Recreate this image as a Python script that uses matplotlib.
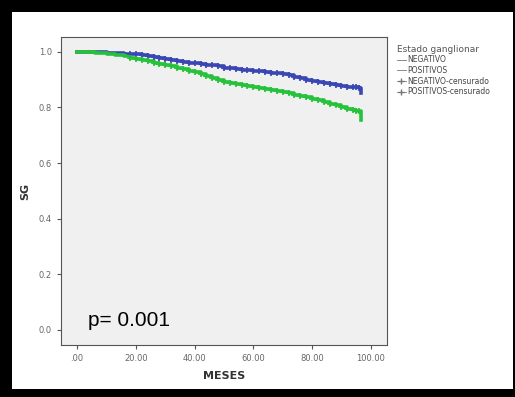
import matplotlib
matplotlib.use('Agg')
import matplotlib.pyplot as plt
from matplotlib.patches import Rectangle
from matplotlib.lines import Line2D

# tiempos (meses) y supervivencia estimada por grupo
t_neg = [0, 6, 10, 13, 16, 18, 20, 22, 24, 26, 28, 30, 32, 34, 36, 38, 40, 42, 44, 46, 48, 50, 52, 54, 56, 58,
         60, 62, 64, 66, 68, 70, 72, 74, 76, 78, 80, 82, 84, 86, 88, 90, 92, 94, 95, 96, 96.5]
s_neg = [1.0, 0.999, 0.997, 0.995, 0.993, 0.992, 0.991, 0.989, 0.985, 0.981, 0.977, 0.973, 0.969, 0.965, 0.962, 0.96,
         0.958, 0.955, 0.953, 0.951, 0.947, 0.943, 0.94, 0.938, 0.936, 0.934, 0.932, 0.93, 0.928, 0.925, 0.922, 0.92,
         0.916, 0.91, 0.905, 0.9, 0.895, 0.89, 0.887, 0.884, 0.88, 0.876, 0.874, 0.873, 0.872, 0.871, 0.85]
t_pos = [0, 6, 10, 13, 16, 18, 20, 22, 24, 26, 28, 30, 32, 34, 36, 38, 40, 42, 44, 46, 48, 50, 52, 54, 56, 58,
         60, 62, 64, 66, 68, 70, 72, 74, 76, 78, 80, 82, 84, 86, 88, 90, 92, 94, 95, 96, 96.5]
s_pos = [1.0, 0.997, 0.993, 0.988, 0.983, 0.979, 0.975, 0.971, 0.966, 0.961, 0.957, 0.952, 0.947, 0.942, 0.937, 0.932,
         0.927, 0.92, 0.913, 0.906, 0.899, 0.892, 0.888, 0.884, 0.88, 0.876, 0.872, 0.868, 0.865, 0.862, 0.859, 0.855,
         0.85, 0.846, 0.841, 0.836, 0.831, 0.825, 0.819, 0.813, 0.807, 0.801, 0.796, 0.79, 0.788, 0.786, 0.755]

xticks = [0, 20, 40, 60, 80, 100]
xlabels = ['.00', '20.00', '40.00', '60.00', '80.00', '100.00']
yticks = [0.0, 0.2, 0.4, 0.6, 0.8, 1.0]
ylabels = ['0.0', '0.2', '0.4', '0.6', '0.8', '1.0']

fig = plt.figure(figsize=(5.15, 3.97), dpi=100)
fig.patch.set_facecolor('black')
fig.patches.append(Rectangle((0.0233, 0.0202), 0.9728, 0.9496, transform=fig.transFigure,
                             facecolor='white', edgecolor='none', zorder=-10))

ax = fig.add_axes([0.1184, 0.131, 0.6331, 0.7758])
ax.set_facecolor('#f0f0f0')

ax.step(t_neg, s_neg, where='post', color='#3a46b4', lw=2.6, label='NEGATIVO')
ax.step(t_pos, s_pos, where='post', color='#26c23a', lw=2.6, label='POSITIVOS')
ax.plot(t_neg[5:-1], s_neg[5:-1], ls='none', marker='+', ms=4.5, mew=1.2, color='#3a46b4', label='NEGATIVO-censurado')
ax.plot(t_pos[5:-1], s_pos[5:-1], ls='none', marker='+', ms=4.5, mew=1.2, color='#26c23a', label='POSITIVOS-censurado')

ax.set_xlim(-5.5, 105.5)
ax.set_ylim(-0.054, 1.053)
ax.set_xticks(xticks)
ax.set_xticklabels(xlabels)
ax.set_yticks(yticks)
ax.set_yticklabels(ylabels)
ax.tick_params(direction='out', length=3, width=0.8, labelsize=6, colors='#555555', labelcolor='#666666')
for s in ax.spines.values():
    s.set_color('#555555')
    s.set_linewidth(0.8)

ax.set_xlabel('MESES', fontsize=8, fontweight='bold', color='#333333', labelpad=6)
ax.set_ylabel('SG', fontsize=8, fontweight='bold', color='#333333', labelpad=6)

ax.text(0.083, 0.062, 'p= 0.001', transform=ax.transAxes, fontsize=15, color='black',
        family='Liberation Sans')

labels = ['NEGATIVO', 'POSITIVOS', 'NEGATIVO-censurado', 'POSITIVOS-censurado']
hs = [Line2D([], [], color='#777777', lw=0.6),
      Line2D([], [], color='#777777', lw=0.6),
      Line2D([], [], color='#777777', lw=0.6, marker='+', ms=4),
      Line2D([], [], color='#777777', lw=0.6, marker='+', ms=4)]
leg = fig.legend(hs, labels, loc='upper left', bbox_to_anchor=(0.757, 0.905), frameon=False,
                 fontsize=5.5, title='Estado ganglionar', title_fontsize=6.5,
                 handlelength=1.2, handletextpad=0.2, labelspacing=0.22)
leg._legend_box.align = 'left'
for t in leg.get_texts():
    t.set_color('#444444')
leg.get_title().set_color('#555555')

fig.savefig('out.png', dpi=100, facecolor=fig.get_facecolor())
